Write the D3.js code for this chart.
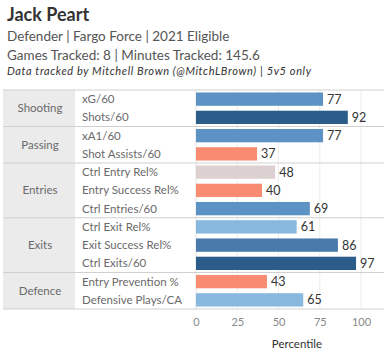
<!DOCTYPE html>
<html>
<head>
<meta charset="utf-8">
<script src="https://cdn.jsdelivr.net/npm/d3@7"></script>
<style>
  body { margin: 0; background: #fff; }
  svg { display: block; font-family: Lato, "Open Sans", sans-serif; }
</style>
</head>
<body>
<div id="chart"></div>
<script>
// data
var groups = ["Shooting", "Passing", "Entries", "Exits", "Defence"];
var groupSizes = [2, 2, 3, 3, 2];
var metrics = ["xG/60", "Shots/60", "xA1/60", "Shot Assists/60", "Ctrl Entry Rel%",
    "Entry Success Rel%", "Ctrl Entries/60", "Ctrl Exit Rel%", "Exit Success Rel%",
    "Ctrl Exits/60", "Entry Prevention %", "Defensive Plays/CA"];
var percentiles = [77, 92, 77, 37, 48, 40, 69, 61, 86, 97, 43, 65];
var xTicks = [0, 25, 50, 75, 100];

var width = 384, height = 358;
var top0 = 90, rowH = 18.25;

var svg = d3.select("#chart").append("svg")
    .attr("width", width)
    .attr("height", height);

// header text
svg.append("text").attr("x", 7).attr("y", 21)
    .style("font-size", "18px").style("font-weight", "bold").attr("fill", "#333")
    .text("Jack Peart");
svg.append("text").attr("x", 7).attr("y", 41)
    .style("font-size", "13.5px").attr("fill", "#555")
    .text("Defender | Fargo Force | 2021 Eligible");
svg.append("text").attr("x", 7).attr("y", 60)
    .style("font-size", "13.5px").attr("fill", "#555")
    .text("Games Tracked: 8 | Minutes Tracked: 145.6");
svg.append("text").attr("x", 7).attr("y", 75)
    .style("font-size", "11px").style("font-style", "italic").attr("fill", "#333")
    .attr("textLength", 304).attr("lengthAdjust", "spacing")
    .text("Data tracked by Mitchell Brown (@MitchLBrown) | 5v5 only");

var x = d3.scaleLinear().domain([0, 100]).range([196, 361]);
var y = d3.scaleBand().domain(d3.range(metrics.length))
    .range([top0, top0 + rowH * metrics.length])
    .paddingInner(0.27).paddingOuter(0.135);

var color = d3.scaleThreshold()
    .domain([45, 55, 67, 80, 90])
    .range(["#f98b70", "#ddd0d0", "#89b8de", "#5d92c4", "#4a7aac", "#2c5c8a"]);

// group column background
var starts = [];
var acc = 0;
groupSizes.forEach(function(n) { starts.push(acc); acc += n; });

svg.append("rect")
    .attr("x", 3).attr("y", top0)
    .attr("width", 72).attr("height", rowH * metrics.length)
    .attr("fill", "#ebebeb");

// grid lines
svg.selectAll(".grid").data(xTicks.slice(1)).enter().append("line")
    .attr("x1", function(d) { return x(d); }).attr("x2", function(d) { return x(d); })
    .attr("y1", top0).attr("y2", top0 + rowH * metrics.length)
    .attr("stroke", "#ececec");
svg.append("line")
    .attr("x1", x(0)).attr("x2", x(0))
    .attr("y1", top0).attr("y2", top0 + rowH * metrics.length)
    .attr("stroke", "#e2e2e2");

// group separators
var seps = starts.concat([metrics.length]);
svg.selectAll(".sep").data(seps).enter().append("line")
    .attr("x1", 3).attr("x2", width)
    .attr("y1", function(d) { return top0 + d * rowH; })
    .attr("y2", function(d) { return top0 + d * rowH; })
    .attr("stroke", "#d0d0d0");

// group labels
svg.selectAll(".glabel").data(groups).enter().append("text")
    .attr("x", 40)
    .attr("y", function(d, i) { return top0 + (starts[i] + groupSizes[i] / 2) * rowH; })
    .attr("dy", "0.35em")
    .attr("text-anchor", "middle")
    .style("font-size", "11.5px").attr("fill", "#6a6a6a")
    .text(function(d) { return d; });

// row labels
svg.selectAll(".rlabel").data(metrics).enter().append("text")
    .attr("x", 82)
    .attr("y", function(d, i) { return top0 + (i + 0.5) * rowH; })
    .attr("dy", "0.35em")
    .style("font-size", "11.5px").attr("fill", "#6a6a6a")
    .text(function(d) { return d; });

// bars
svg.selectAll(".bar").data(percentiles).enter().append("rect")
    .attr("x", x(0))
    .attr("y", function(d, i) { return y(i); })
    .attr("width", function(d) { return x(d) - x(0); })
    .attr("height", y.bandwidth())
    .attr("fill", function(d) { return color(d); });

svg.selectAll(".val").data(percentiles).enter().append("text")
    .attr("x", function(d) { return x(d) + 4; })
    .attr("y", function(d, i) { return y(i) + y.bandwidth() / 2; })
    .attr("dy", "0.35em")
    .style("font-size", "12.5px").attr("fill", "#333")
    .text(function(d) { return d; });

// axis
var axis = d3.axisBottom(x).tickValues(xTicks).tickSize(0).tickPadding(0);
var ax = svg.append("g")
    .attr("transform", "translate(0," + (top0 + rowH * metrics.length + 9) + ")")
    .call(axis);
ax.select(".domain").remove();
ax.selectAll("text").style("font-size", "11px").attr("fill", "#888")
    .style("font-family", "Lato, sans-serif");

svg.append("text")
    .attr("x", 297).attr("y", 348)
    .attr("text-anchor", "middle")
    .style("font-size", "11.5px").attr("fill", "#333")
    .text("Percentile");
</script>
</body>
</html>
